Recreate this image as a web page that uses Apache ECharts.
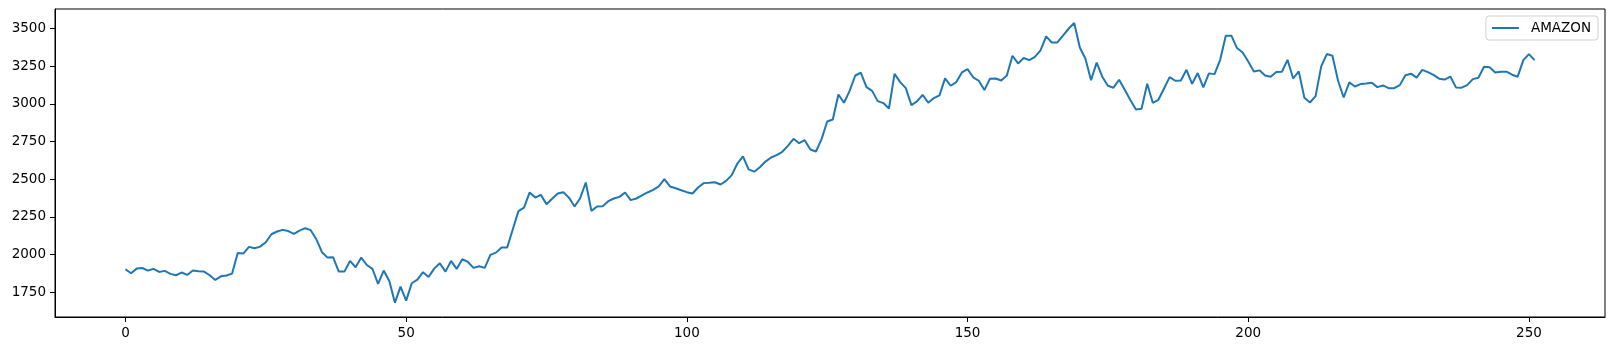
<!DOCTYPE html>
<html>
<head>
<meta charset="utf-8">
<script src="https://cdn.jsdelivr.net/npm/echarts@6/dist/echarts.min.js"></script>
<style>html,body{margin:0;padding:0;background:#fff;}#c{width:1614px;height:351px;}</style>
</head>
<body>
<div id="c"></div>
<script>
const seriesName = 'AMAZON';
const amazon = [
1903,1876,1907,1911,1894,1905,1885,1892,1872,1863,
1881,1865,1894,1889,1887,1863,1832,1856,1861,1874,
2011,2007,2051,2042,2053,2082,2135,2153,2164,2156,
2138,2159,2175,2162,2102,2016,1980,1982,1887,1887,
1958,1916,1980,1931,1905,1805,1894,1825,1681,1788,
1695,1810,1834,1883,1852,1907,1943,1887,1958,1905,
1969,1951,1912,1923,1912,1998,2013,2047,2047,2168,
2288,2312,2412,2378,2396,2334,2370,2405,2414,2378,
2319,2374,2478,2290,2319,2321,2354,2372,2383,2412,
2361,2372,2392,2412,2429,2452,2500,2452,2440,2427,
2414,2405,2445,2474,2476,2480,2465,2489,2527,2604,
2651,2565,2550,2579,2617,2644,2660,2682,2721,2768,
2739,2759,2697,2684,2766,2883,2896,3062,3007,3086,
3188,3206,3111,3086,3018,3005,2969,3199,3144,3104,
2991,3016,3060,3007,3038,3056,3169,3120,3144,3208,
3230,3176,3153,3091,3167,3168,3155,3188,3319,3268,
3304,3290,3312,3354,3447,3407,3407,3452,3498,3536,
3374,3299,3157,3273,3180,3120,3107,3160,3093,3025,
2963,2967,3133,3007,3027,3102,3177,3153,3155,3226,
3133,3204,3109,3202,3197,3292,3452,3452,3370,3341,
3281,3215,3222,3188,3180,3211,3213,3292,3168,3215,
3040,3009,3051,3248,3330,3319,3153,3042,3142,3115,
3131,3135,3140,3111,3122,3104,3104,3124,3190,3200,
3174,3225,3210,3192,3167,3161,3181,3109,3107,3124,
3164,3173,3246,3242,3208,3213,3213,3193,3180,3290,
3330,3290
];
const xTicks = [0, 50, 100, 150, 200, 250];
const yTicks = [1750, 2000, 2250, 2500, 2750, 3000, 3250, 3500];

const points = amazon.map((v, i) => [i, v]);
const font = 'DejaVu Sans';
const chart = echarts.init(document.getElementById('c'), null, {renderer: 'canvas'});
chart.setOption({
  animation: false,
  backgroundColor: '#fff',
  grid: {left: 55, right: 9, top: 9, bottom: 34, show: true, borderColor: '#000', borderWidth: 1, backgroundColor: 'transparent'},
  legend: {
    right: 16, top: 16,
    data: [{name: seriesName, icon: 'rect'}],
    itemWidth: 27, itemHeight: 2,
    padding: [5, 7, 5, 6],
    borderColor: '#d0d0d0', borderWidth: 1, borderRadius: 3,
    backgroundColor: 'rgba(255,255,255,0.8)',
    textStyle: {fontFamily: font, fontSize: 13.5, color: '#000', padding: [0, 0, 0, 7]}
  },
  xAxis: {
    type: 'value', min: -12.55, max: 263.55,
    splitLine: {show: false},
    axisLine: {show: true, onZero: false, lineStyle: {color: '#000'}},
    axisTick: {show: true, length: 5, customValues: xTicks, lineStyle: {color: '#000'}},
    axisLabel: {customValues: xTicks, margin: 9, fontFamily: font, fontSize: 13.5, color: '#000',
      formatter: v => String(v)}
  },
  yAxis: {
    type: 'value', min: 1586, max: 3629,
    splitLine: {show: false},
    axisLine: {show: true, onZero: false, lineStyle: {color: '#000'}},
    axisTick: {show: true, length: 5, customValues: yTicks, lineStyle: {color: '#000'}},
    axisLabel: {customValues: yTicks, margin: 9, fontFamily: font, fontSize: 13.5, color: '#000',
      formatter: v => String(v)}
  },
  series: [{
    name: seriesName, type: 'line', data: points,
    showSymbol: false, symbol: 'none',
    lineStyle: {color: '#1f77b4', width: 2},
    itemStyle: {color: '#1f77b4'}
  }]
});
</script>
</body>
</html>
